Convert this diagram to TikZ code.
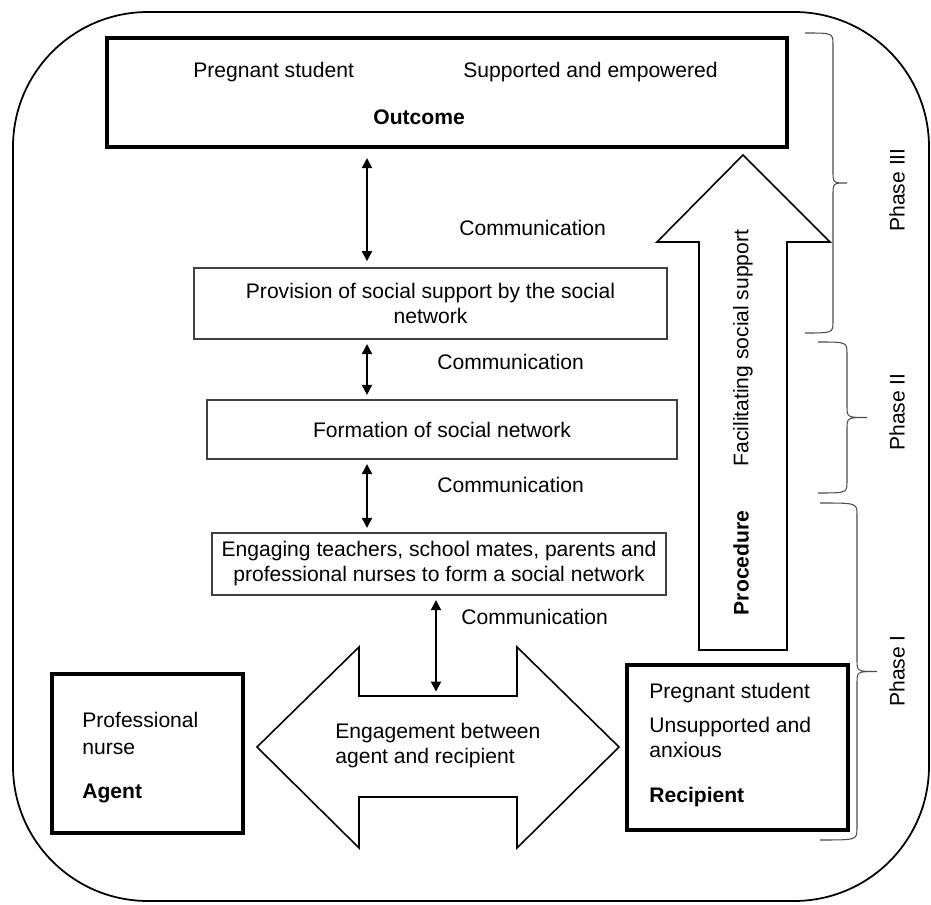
\documentclass[tikz,border=0pt]{standalone}
\usepackage{fontspec}
\setmainfont{Liberation Sans}
\usepackage{tikz}
\usetikzlibrary{arrows.meta,calc,positioning}

\tikzset{
  kasten/.style={draw=black!75,line width=0.8pt,align=center,inner sep=0pt},
  dickkasten/.style={draw,line width=2.6pt,inner sep=0pt},
  komm/.style={{Triangle[length=2mm,width=2mm]}-{Triangle[length=2mm,width=2mm]},line width=1.1pt,shorten <=2.5pt,shorten >=2.5pt},
  kommtext/.style={anchor=west,inner sep=0pt},
  klammer/.style={draw=black!70,line width=0.6pt},
  phase/.style={rotate=90,inner sep=0pt}
}
%Klammer: Ende x, Linie x, Spitze x, oben y, unten y
\newcommand{\phasenklammer}[5]{
  \pgfmathsetmacro{\ym}{(#4+#5)/2}
  \draw[klammer] (#1,#4) .. controls (#2,#4) .. (#2,{#4+12}) -- (#2,{\ym-12}) .. controls (#2,\ym) .. (#3,\ym)
    .. controls (#2,\ym) .. (#2,{\ym+12}) -- (#2,{#5-12}) .. controls (#2,#5) .. (#1,#5);
}

\begin{document}
\begin{tikzpicture}[x=0.02cm,y=-0.02cm,font=\fontsize{12pt}{14.2pt}\selectfont]
%Koordinaten in Pixeln des Bildes (931 x 905)
\useasboundingbox (0,0) rectangle (931,905);
\draw[line width=1pt,rounded corners=2.7cm] (13,12) rectangle (929,901);
%Kaesten
\node[dickkasten,minimum width=13.6cm,minimum height=2.18cm] (outcome) at (447,92.5) {};
\node[anchor=west,inner sep=0pt] (schwanger1) at (193,72) {Pregnant student};
\node[anchor=west,inner sep=0pt] (gestuetzt) at (463,72) {Supported and empowered};
\node[anchor=west,inner sep=0pt] (outcometext) at (373,117) {\textbf{Outcome}};
\node[kasten,minimum width=9.46cm,minimum height=1.42cm] (provision) at (430.5,303.5) {Provision of social support by the social\\network};
\node[kasten,minimum width=9.4cm,minimum height=1.18cm] (formation) at (442,429.5) {Formation of social network};
\node[kasten,minimum width=9.08cm,minimum height=1.24cm] (engaging) at (439,564) {Engaging teachers, school mates, parents and\\professional nurses to form a social network};
\node[dickkasten,minimum width=3.82cm,minimum height=3.18cm] (agent) at (147.5,753.5) {};
\node[anchor=west,align=left,inner sep=0pt] (agenttext) at (82,757.5) {Professional\\[0.04cm]nurse\\[0.38cm]\textbf{Agent}};
\node[dickkasten,minimum width=4.42cm,minimum height=3.3cm] (recipient) at (737.5,747.5) {};
\node[anchor=west,align=left,inner sep=0pt] (recipienttext) at (649,745) {Pregnant student\\[0.18cm]Unsupported and\\anxious\\[0.4cm]\textbf{Recipient}};
%grosser Pfeil nach oben
\draw[line width=0.9pt] (743,155) -- (830,242) -- (787,242) -- (787,650) -- (699,650) -- (699,242) -- (657,242) -- cycle;
\node[rotate=90,inner sep=0pt] (facilitating) at (743,348) {Facilitating social support};
\node[rotate=90,inner sep=0pt] (procedure) at (741,563) {\textbf{Procedure}};
%Doppelpfeil
\draw[line width=0.9pt] (257,747) -- (359,647) -- (359,696) -- (517,696) -- (517,647) -- (619,747) -- (517,848) -- (517,797) -- (359,797) -- (359,848) -- cycle;
\coordinate (schaft) at (436,696);
\node[anchor=west,align=left,inner sep=0pt] (engagement) at (335,745.5) {Engagement between\\agent and recipient};
%Kommunikation
\coordinate (kx) at (367,0);
\draw[komm,shorten <=5pt,shorten >=3.5pt] (outcome.south -| kx) -- (provision.north -| kx);
\draw[komm] (provision.south -| kx) -- (formation.north -| kx);
\draw[komm] (formation.south -| kx) -- (engaging.north -| kx);
\draw[komm] (engaging.south -| schaft) -- (schaft);
\node[kommtext] (komm1) at (459,228) {Communication};
\node[kommtext] (komm2) at (437,362) {Communication};
\node[kommtext] (komm3) at (437,485) {Communication};
\node[kommtext] (komm4) at (461,617) {Communication};
%Klammern fuer die Phasen
\phasenklammer{805}{833}{847}{33}{333}
\phasenklammer{818}{847}{867}{342}{493}
\phasenklammer{820}{857}{877}{503}{840}
\node[phase] (phase3) at (897,190) {Phase III};
\node[phase] (phase2) at (897,412) {Phase II};
\node[phase] (phase1) at (897,671) {Phase I};
\end{tikzpicture}
\end{document}
